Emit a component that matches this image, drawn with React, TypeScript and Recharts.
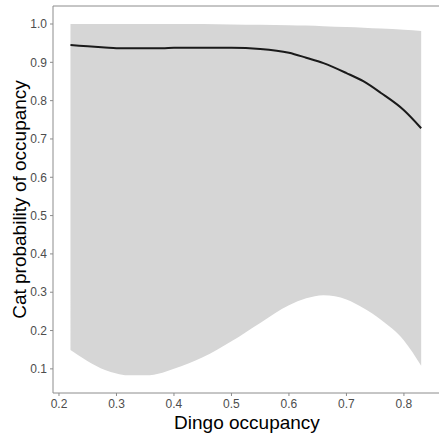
import React from 'react';
import { ComposedChart, Area, Line, XAxis, YAxis, ReferenceLine, Label } from 'recharts';

// dingo occupancy (x) and fitted cat occupancy with its 95% band
const dingo = [0.22, 0.25, 0.28, 0.3, 0.32, 0.35, 0.38, 0.4, 0.45, 0.5, 0.55, 0.6, 0.63, 0.66, 0.7, 0.73, 0.76, 0.8, 0.83];
const meanFit = [0.945, 0.942, 0.939, 0.937, 0.937, 0.937, 0.937, 0.938, 0.938, 0.938, 0.935, 0.925, 0.912, 0.898, 0.872, 0.85, 0.82, 0.775, 0.728];
const lower = [0.149, 0.12, 0.097, 0.088, 0.083, 0.083, 0.09, 0.1, 0.13, 0.172, 0.22, 0.266, 0.284, 0.292, 0.281, 0.258, 0.228, 0.174, 0.108];
const upper = [1.0, 1.0, 1.0, 1.0, 1.0, 1.0, 1.0, 1.0, 1.0, 0.999, 0.998, 0.997, 0.996, 0.994, 0.992, 0.99, 0.988, 0.985, 0.982];

const xTicks = [0.2, 0.3, 0.4, 0.5, 0.6, 0.7, 0.8];
const yTicks = [0.1, 0.2, 0.3, 0.4, 0.5, 0.6, 0.7, 0.8, 0.9, 1.0];

const data = dingo.map((d, i) => ({ d, band: [lower[i], upper[i]], mean: meanFit[i] }));

const font = 'Arial, "Liberation Sans", sans-serif';
const tickStyle = { fill: '#4d4d4d', fontSize: 12, fontFamily: font };
const axisGrey = '#8c8c8c';

export default function App() {
  return (
    <div style={{ position: 'absolute', left: 0, top: 0, width: 439, height: 438, background: '#fff' }}>
      <ComposedChart width={439} height={438} data={data} margin={{ top: 6, right: 0, bottom: 0, left: 13 }}>
        <XAxis
          dataKey="d"
          type="number"
          domain={[0.1896, 0.861]}
          ticks={xTicks}
          tickFormatter={(v: number) => v.toFixed(1)}
          allowDataOverflow
          height={45}
          tick={tickStyle}
          tickSize={3}
          tickMargin={3}
          stroke={axisGrey}
        >
          <Label
            content={({ viewBox }: any) => (
              <text
                x={viewBox.x + viewBox.width / 2 + 1}
                y={429}
                textAnchor="middle"
                fontSize={19}
                fontFamily={font}
                fill="#000"
              >
                Dingo occupancy
              </text>
            )}
          />
        </XAxis>
        <YAxis
          type="number"
          domain={[0.037, 1.047]}
          ticks={yTicks}
          tickFormatter={(v: number) => v.toFixed(1)}
          allowDataOverflow
          width={40}
          tick={tickStyle}
          tickSize={3}
          tickMargin={3}
          stroke={axisGrey}
        >
          <Label
            content={({ viewBox }: any) => {
              const cy = viewBox.y + viewBox.height / 2;
              return (
                <text
                  x={26}
                  y={cy}
                  transform={`rotate(-90 26 ${cy})`}
                  textAnchor="middle"
                  fontSize={19}
                  fontFamily={font}
                  fill="#000"
                >
                  Cat probability of occupancy
                </text>
              );
            }}
          />
        </YAxis>
        <ReferenceLine y={1.047} stroke={axisGrey} strokeWidth={1} ifOverflow="extendDomain" />
        <Area
          dataKey="band"
          type="monotone"
          stroke="none"
          fill="#d6d6d6"
          fillOpacity={1}
          isAnimationActive={false}
        />
        <Line
          dataKey="mean"
          type="monotone"
          stroke="#1a1a1a"
          strokeWidth={2}
          dot={false}
          isAnimationActive={false}
        />
      </ComposedChart>
    </div>
  );
}
